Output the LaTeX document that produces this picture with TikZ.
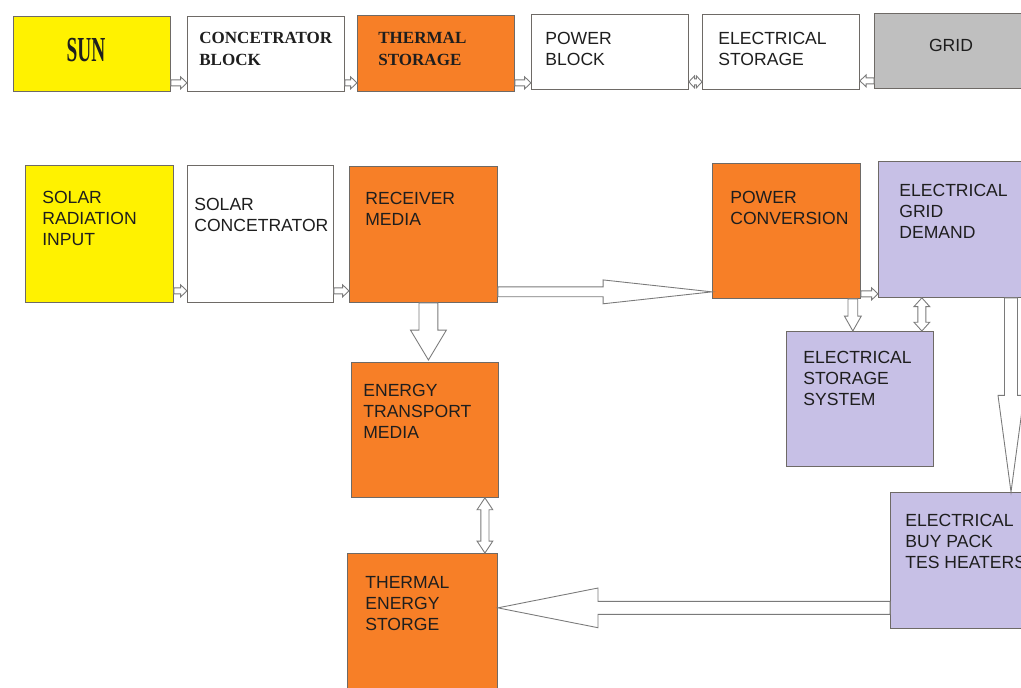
\documentclass[tikz,border=0pt]{standalone}
\usepackage{fontspec}
\usepackage{graphicx}
\setmainfont{Liberation Serif}
\setsansfont{Liberation Sans}
\usetikzlibrary{calc}

\definecolor{sunyellow}{HTML}{FFF200}
\definecolor{heatorange}{HTML}{F77F27}
\definecolor{gridlilac}{HTML}{C7C0E6}
\definecolor{gridgrey}{HTML}{BFBFBF}
\definecolor{boxline}{HTML}{6E6A66}
\definecolor{arrowline}{HTML}{7A7A7A}
\definecolor{textdark}{HTML}{1E1E1E}

% from, to, shaft half width, head half width, head length
\newcommand{\hblock}[5]{\draw[blockarrow] let \p1=(#1), \p2=(#2), \n1={ifthenelse(\x2>\x1,1,-1)}, \n2={\x2-(\n1)*#5} in
  (\x1,{\y1-#3}) -- (\n2,{\y1-#3}) -- (\n2,{\y1-#4}) -- (\x2,\y1)
  -- (\n2,{\y1+#4}) -- (\n2,{\y1+#3}) -- (\x1,{\y1+#3}) -- cycle;}
\newcommand{\vblock}[5]{\draw[blockarrow] let \p1=(#1), \p2=(#2), \n1={ifthenelse(\y2>\y1,1,-1)}, \n2={\y2-(\n1)*#5} in
  ({\x1-#3},\y1) -- ({\x1-#3},\n2) -- ({\x1-#4},\n2) -- (\x1,\y2)
  -- ({\x1+#4},\n2) -- ({\x1+#3},\n2) -- ({\x1+#3},\y1) -- cycle;}
\newcommand{\vdblock}[5]{\draw[blockarrow] let \p1=(#1), \p2=(#2), \n1={ifthenelse(\y2>\y1,1,-1)}, \n2={\y2-(\n1)*#5}, \n3={\y1+(\n1)*#5} in
  (\x1,\y1) -- ({\x1+#4},\n3) -- ({\x1+#3},\n3) -- ({\x1+#3},\n2)
  -- ({\x1+#4},\n2) -- (\x1,\y2) -- ({\x1-#4},\n2) -- ({\x1-#3},\n2)
  -- ({\x1-#3},\n3) -- ({\x1-#4},\n3) -- cycle;}
\newcommand{\hdblock}[5]{\draw[blockarrow] let \p1=(#1), \p2=(#2), \n1={ifthenelse(\x2>\x1,1,-1)}, \n2={\x2-(\n1)*#5}, \n3={\x1+(\n1)*#5} in
  (\x1,\y1) -- (\n3,{\y1+#4}) -- (\n3,{\y1+#3}) -- (\n2,{\y1+#3})
  -- (\n2,{\y1+#4}) -- (\x2,\y1) -- (\n2,{\y1-#4}) -- (\n2,{\y1-#3})
  -- (\n3,{\y1-#3}) -- (\n3,{\y1-#4}) -- cycle;}

\begin{document}
\begin{tikzpicture}[x=0.02cm,y=-0.02cm,
    stage/.style={draw=boxline,line width=0.5pt,inner sep=0pt,anchor=north west},
    txt/.style={anchor=north west,inner sep=0pt,align=left,text=textdark,font=\sffamily\fontsize{10}{12}\selectfont},
    toptxt/.style={txt,font=\rmfamily\bfseries\fontsize{9.7}{12.5}\selectfont},
    blockarrow/.style={draw=arrowline,fill=white,line width=0.5pt,line join=miter}]
  \clip (0,0) rectangle (1021,687);
  \fill[white] (0,0) rectangle (1021,687);

  \node[stage,fill=sunyellow,minimum width=3.14cm,minimum height=1.5cm](sun) at (13,16) {};
  \node[stage,fill=white,minimum width=3.14cm,minimum height=1.5cm](cb) at (187,16) {};
  \node[stage,fill=heatorange,minimum width=3.14cm,minimum height=1.52cm](ts) at (357,15) {};
  \node[stage,fill=white,minimum width=3.14cm,minimum height=1.5cm](pb) at (531,14) {};
  \node[stage,fill=white,minimum width=3.14cm,minimum height=1.5cm](es) at (702,14) {};
  \node[stage,fill=gridgrey,minimum width=3.3cm,minimum height=1.5cm](grid) at (874,13) {};

  \node[anchor=center,inner sep=0pt,text=textdark](sun-t) at (86,50)
    {\scalebox{0.55}[1]{\rmfamily\bfseries\fontsize{20}{20}\selectfont SUN}};
  \node[toptxt](cb-t) at (199,32) {CONCETRATOR\\BLOCK};
  \node[toptxt](ts-t) at (378,32) {THERMAL\\STORAGE};
  \node[txt](pb-t) at (545,32) {POWER\\BLOCK};
  \node[txt](es-t) at (718,32) {ELECTRICAL\\STORAGE};
  \node[anchor=center,inner sep=0pt,text=textdark,font=\sffamily\fontsize{10}{12}\selectfont](grid-t) at (951,45) {GRID};

  \node[stage,fill=sunyellow,minimum width=2.96cm,minimum height=2.74cm](sri) at (25,165) {};
  \node[stage,fill=white,minimum width=2.92cm,minimum height=2.74cm](sc) at (187,165) {};
  \node[stage,fill=heatorange,minimum width=2.96cm,minimum height=2.72cm](rm) at (349,166) {};
  \node[stage,fill=heatorange,minimum width=2.96cm,minimum height=2.7cm](pc) at (712,163) {};
  \node[stage,fill=gridlilac,minimum width=3.3cm,minimum height=2.72cm](ged) at (878,161) {};
  \node[stage,fill=gridlilac,minimum width=2.94cm,minimum height=2.7cm](ess) at (786,331) {};
  \node[stage,fill=heatorange,minimum width=2.94cm,minimum height=2.7cm](etm) at (351,362) {};
  \node[stage,fill=heatorange,minimum width=3.0cm,minimum height=2.9cm](tes) at (347,553) {};
  \node[stage,fill=gridlilac,minimum width=3.1cm,minimum height=2.72cm](buy) at (890,492) {};

  \node[txt](sri-t) at (42,191) {SOLAR\\RADIATION\\INPUT};
  \node[txt](sc-t) at (194,198) {SOLAR\\CONCETRATOR};
  \node[txt](rm-t) at (365,192) {RECEIVER\\MEDIA};
  \node[txt](pc-t) at (730,191) {POWER\\CONVERSION};
  \node[txt](ged-t) at (899,184) {ELECTRICAL\\GRID\\DEMAND};
  \node[txt](ess-t) at (803,351) {ELECTRICAL\\STORAGE\\SYSTEM};
  \node[txt](etm-t) at (363,384) {ENERGY\\TRANSPORT\\MEDIA};
  \node[txt](tes-t) at (365,576) {THERMAL\\ENERGY\\STORGE};
  \node[txt](buy-t) at (905,514) {ELECTRICAL\\BUY PACK\\TES HEATERS};

  \hblock{$(sun.south east)+(0,-9)$}{$(cb.south west)+(0,-9)$}{1.7pt}{3.4pt}{3.6pt}
  \hblock{$(cb.south east)+(0,-9)$}{$(ts.south west)+(0,-9)$}{1.7pt}{3.4pt}{3.6pt}
  \hblock{$(ts.south east)+(0,-9)$}{$(pb.south west)+(0,-9)$}{1.7pt}{3.4pt}{3.6pt}
  \hdblock{$(pb.south east)+(0,-8)$}{$(es.south west)+(0,-8)$}{1.7pt}{3.4pt}{3.2pt}
  \hblock{$(grid.south west)+(0,-8)$}{$(es.south east)+(0,-8)$}{1.7pt}{3.4pt}{3.6pt}

  \hblock{$(sri.south east)+(0,-12)$}{$(sc.south west)+(0,-12)$}{1.7pt}{3.4pt}{3.6pt}
  \hblock{$(sc.south east)+(0,-12)$}{$(rm.south west)+(0,-12)$}{1.7pt}{3.4pt}{3.6pt}
  \hblock{$(pc.south east)+(0,-5)$}{$(ged.south west)+(0,-5)$}{1.7pt}{3.4pt}{3.6pt}

  \hblock{$(rm.south east)+(0,-11)$}{pc.west}{2.8pt}{6.8pt}{62pt}
  \vblock{$(rm.south)+(5,0)$}{$(etm.north)+(0,-2)$}{5.4pt}{10.2pt}{17pt}
  \vdblock{$(etm.south)+(60,0)$}{tes.north}{2.3pt}{4.5pt}{6.8pt}
  \hblock{$(buy.south west)+(0,-21)$}{tes.east}{3.7pt}{11.3pt}{57pt}
  \vblock{$(ged.south west)+(133,0)$}{buy.north}{3.7pt}{7.4pt}{55pt}
  \vblock{$(pc.south east)+(-8,0)$}{ess.north}{2.8pt}{4.8pt}{8.5pt}
  \vdblock{$(ess.north east)+(-12,0)$}{ged.south}{2.3pt}{4.5pt}{5pt}
\end{tikzpicture}
\end{document}
